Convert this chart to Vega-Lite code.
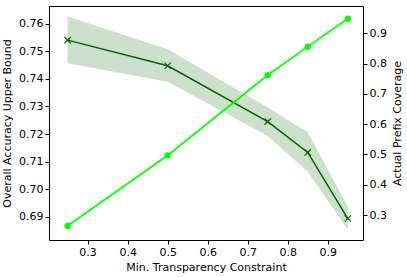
{
  "$schema": "https://vega.github.io/schema/vega-lite/v6.json",
  "autosize": {"type": "none"},
  "width": 314,
  "height": 234,
  "padding": {"left": 49, "top": 6, "right": 44, "bottom": 37},
  "background": "white",
  "config": {
    "view": {"stroke": "black", "strokeWidth": 1},
    "font": "DejaVu Sans",
    "axis": {
      "grid": false,
      "domain": false,
      "tickColor": "black",
      "tickSize": 4,
      "labelFontSize": 11,
      "labelColor": "black",
      "labelPadding": 2,
      "titleFontSize": 11,
      "titleFontWeight": "normal",
      "titleColor": "black",
      "labelFont": "DejaVu Sans",
      "titleFont": "DejaVu Sans"
    }
  },
  "data": {
    "values": [
      {"x": 0.25, "acc": 0.7541, "acc_lo": 0.7457, "acc_hi": 0.7627, "cov": 0.264, "cov_lo": 0.258, "cov_hi": 0.270},
      {"x": 0.5, "acc": 0.7448, "acc_lo": 0.7390, "acc_hi": 0.7508, "cov": 0.497, "cov_lo": 0.491, "cov_hi": 0.503},
      {"x": 0.75, "acc": 0.7245, "acc_lo": 0.7193, "acc_hi": 0.7296, "cov": 0.762, "cov_lo": 0.756, "cov_hi": 0.768},
      {"x": 0.85, "acc": 0.7133, "acc_lo": 0.7063, "acc_hi": 0.7206, "cov": 0.8555, "cov_lo": 0.8495, "cov_hi": 0.8615},
      {"x": 0.95, "acc": 0.6893, "acc_lo": 0.6853, "acc_hi": 0.6936, "cov": 0.948, "cov_lo": 0.942, "cov_hi": 0.954}
    ]
  },
  "encoding": {
    "x": {
      "field": "x", "type": "quantitative",
      "scale": {"domain": [0.2035, 0.988], "nice": false, "zero": false},
      "axis": {"values": [0.3, 0.4, 0.5, 0.6, 0.7, 0.8, 0.9], "format": ".1f", "title": "Min. Transparency Constraint", "titlePadding": 4}
    }
  },
  "layer": [
    {
      "encoding": {
        "y": {
          "field": "acc", "type": "quantitative",
          "scale": {"domain": [0.6815, 0.7665], "nice": false, "zero": false},
          "axis": {"orient": "left", "values": [0.69, 0.70, 0.71, 0.72, 0.73, 0.74, 0.75, 0.76], "format": ".2f", "title": "Overall Accuracy Upper Bound", "titlePadding": 6}
        }
      },
      "layer": [
        {"mark": {"type": "area", "color": "#006400", "opacity": 0.2}, "encoding": {"y": {"field": "acc_lo", "type": "quantitative"}, "y2": {"field": "acc_hi"}}},
        {"mark": {"type": "line", "color": "#006400", "strokeWidth": 1.5}},
        {"mark": {"type": "point", "shape": "M-1,-1L1,1M-1,1L1,-1", "filled": false, "stroke": "#006400", "strokeWidth": 1.2, "size": 40, "opacity": 1}}
      ]
    },
    {
      "encoding": {
        "y": {
          "field": "cov", "type": "quantitative",
          "scale": {"domain": [0.2175, 0.99], "nice": false, "zero": false},
          "axis": {"orient": "right", "values": [0.3, 0.4, 0.5, 0.6, 0.7, 0.8, 0.9], "format": ".1f", "title": "Actual Prefix Coverage", "titleAngle": 270, "titleX": 34, "titleY": 117, "titleAlign": "center", "titleBaseline": "middle"}
        }
      },
      "layer": [
        {"mark": {"type": "area", "color": "#00ff00", "opacity": 0.2}, "encoding": {"y": {"field": "cov_lo", "type": "quantitative"}, "y2": {"field": "cov_hi"}}},
        {"mark": {"type": "line", "color": "#00ff00", "strokeWidth": 1.5}},
        {"mark": {"type": "point", "shape": "circle", "filled": true, "color": "#00ff00", "size": 40, "opacity": 1}}
      ]
    }
  ],
  "resolve": {"scale": {"y": "independent"}}
}
